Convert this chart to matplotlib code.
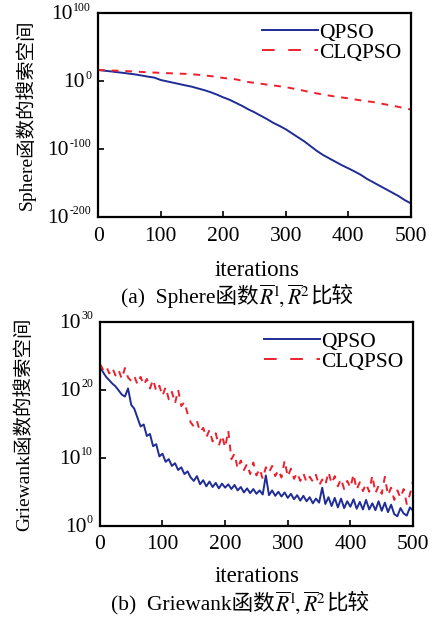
"""Sphere / Griewank 函数搜索空间比较图 (QPSO vs CLQPSO)。"""

import matplotlib

matplotlib.use("Agg")
import matplotlib.pyplot as plt
import numpy as np
from matplotlib.lines import Line2D
from matplotlib.ticker import FixedLocator, NullFormatter, NullLocator

plt.rcParams["font.family"] = ["Liberation Serif", "Noto Sans CJK SC"]
plt.rcParams["mathtext.fontset"] = "stix"

# ---- data (log10 values) ----
sphere_qpso_iter = list(range(0, 501, 10))
sphere_qpso_log = [
    16.2, 15.2, 14.2, 13.0, 12.0, 10.8, 9.6, 8.0, 6.4, 5.0,
    1.5, -0.5, -2.5, -4.5, -6.5, -8.4, -11.0, -13.5, -16.5, -20.0,
    -24.0, -27.5, -32.0, -36.5, -41.6, -46.0, -51.0, -56.0, -61.5, -66.0,
    -71.0, -77.0, -83.0, -89.0, -96.0, -103.0, -109.0, -114.0, -119.0, -124.0,
    -128.4, -133.0, -138.0, -144.0, -149.0, -154.0, -159.0, -164.0, -169.0, -175.0,
    -180.0,
]
sphere_cl_iter = list(range(0, 501, 20))
sphere_cl_log = [
    16.2, 15.5, 14.8, 13.8, 12.8, 12.0, 11.2, 10.5, 9.2, 7.2,
    4.5, 2.5, -1.5, -4.0, -6.5, -9.0, -12.5, -16.5, -20.0, -23.0,
    -25.5, -28.5, -31.0, -34.5, -38.0, -42.0,
]

grie_iter = list(range(0, 501, 5))
grie_qpso_log = [
    23.4, 22.6, 21.9, 21.4, 20.9, 20.5, 19.9, 19.3, 19.0, 20.2,
    17.8, 17.2, 15.9, 14.6, 14.9, 13.2, 13.5, 11.7, 12.0, 10.2,
    10.6, 9.4, 9.8, 8.8, 9.2, 8.2, 8.6, 7.6, 8.0, 7.1,
    6.6, 7.3, 6.1, 6.7, 5.8, 6.5, 5.7, 6.3, 5.5, 6.2,
    5.6, 6.1, 5.4, 6.0, 5.2, 5.7, 4.9, 5.5, 4.8, 5.4,
    4.7, 5.2, 4.6, 7.4, 4.5, 5.2, 4.4, 5.0, 4.3, 4.9,
    4.1, 4.7, 3.9, 4.5, 3.7, 4.4, 3.6, 4.2, 3.3, 4.0,
    3.4, 5.6, 3.2, 4.2, 2.9, 4.1, 2.7, 4.0, 2.6, 3.6,
    2.8, 3.9, 2.5, 3.5, 2.4, 3.8, 2.4, 3.3, 2.3, 3.6,
    2.2, 3.4, 2.0, 3.1, 1.7, 1.4, 2.6, 1.8, 1.5, 2.7,
    2.2,
]
grie_cl_log = [
    23.8, 23.0, 23.5, 22.4, 23.2, 22.1, 22.9, 21.6, 23.2, 21.8,
    21.3, 22.0, 20.8, 21.9, 20.7, 21.6, 20.2, 21.5, 19.8, 20.6,
    19.1, 20.4, 18.6, 19.7, 18.0, 20.0, 17.6, 18.2, 16.5, 15.2,
    14.6, 15.4, 13.8, 14.4, 13.0, 14.1, 12.4, 13.6, 11.8, 13.3,
    11.5, 14.0, 9.8, 10.6, 8.4, 9.6, 8.2, 9.1, 7.6, 9.3,
    7.4, 8.4, 6.9, 8.6, 7.8, 8.8, 7.3, 8.2, 7.1, 9.6,
    7.2, 8.4, 6.9, 7.8, 6.6, 7.7, 6.4, 7.2, 6.5, 7.5,
    5.9, 6.8, 6.0, 7.9, 6.2, 7.3, 5.8, 6.9, 5.4, 6.6,
    5.6, 7.6, 5.3, 6.4, 5.1, 6.2, 5.0, 7.4, 4.8, 5.9,
    4.7, 7.2, 4.5, 5.6, 3.8, 5.2, 4.1, 5.4, 3.2, 4.6,
    6.6,
]

x_ticks = [0, 100, 200, 300, 400, 500]
sphere_yticks = [-200, -100, 0, 100]
grie_yticks = [0, 10, 20, 30]
legend_labels = ["QPSO", "CLQPSO"]

BLUE = "#1f2c96"
RED = "#ee1f2d"
FS = 15.5
LW = 1.4


def power_labels(fig, ax, yticks):
    """手工画 10^n 刻度标签：上标比 mathtext 默认的更小。"""
    renderer = fig.canvas.get_renderer()
    for t in yticks:
        pos = dict(xy=(0, 10.0 ** t), xycoords=("axes fraction", "data"),
                   textcoords="offset points")
        sup = ax.annotate(str(t), xytext=(-5, 1.8), ha="right", va="baseline",
                          fontsize=8.5, **pos)
        w = sup.get_window_extent(renderer).width * 72 / fig.dpi
        ax.annotate("10", xytext=(-5.5 - w, -1.2), ha="right", va="center",
                    fontsize=FS, **pos)


def style_axes(fig, ax, yticks):
    ax.set_yscale("log")
    ax.set_xlim(0, 500)
    ax.set_ylim(10.0 ** yticks[0], 10.0 ** yticks[-1])
    ax.xaxis.set_major_locator(FixedLocator(x_ticks))
    ax.yaxis.set_major_locator(FixedLocator([10.0 ** t for t in yticks]))
    ax.yaxis.set_minor_locator(NullLocator())
    ax.yaxis.set_major_formatter(NullFormatter())
    ax.tick_params(direction="in", length=4, width=1.2, labelsize=FS, pad=7,
                   top=False, right=False)
    for sp in ax.spines.values():
        sp.set_linewidth(1.6)
    power_labels(fig, ax, yticks)
    # 图例里的虚线比曲线上的更长
    handles = [Line2D([], [], color=BLUE, lw=LW),
               Line2D([], [], color=RED, lw=LW, dashes=(6.5, 7))]
    ax.legend(handles, legend_labels, loc="upper right", frameon=False,
              fontsize=FS, handlelength=2.6, handletextpad=0.05,
              labelspacing=0.0, borderpad=0.2, borderaxespad=0.25)


def caption(fig, xc, y, pieces):
    """在 (xc, y) 居中放置由多段文字拼成的一行标题。"""
    texts = [fig.text(0, y, s, fontsize=FS, va="center", **kw) for s, kw in pieces]
    renderer = fig.canvas.get_renderer()
    widths = [t.get_window_extent(renderer).width / fig.bbox.width for t in texts]
    x = xc - sum(widths) / 2
    for t, w in zip(texts, widths):
        t.set_x(x)
        x += w


fig = plt.figure(figsize=(4.38, 6.2), dpi=100)
ax1 = fig.add_axes([0.224, 0.650, 0.714, 0.329])
ax2 = fig.add_axes([0.228, 0.152, 0.715, 0.329])

ax1.plot(sphere_qpso_iter, 10.0 ** np.array(sphere_qpso_log), color=BLUE, lw=LW)
ax1.plot(sphere_cl_iter, 10.0 ** np.array(sphere_cl_log), color=RED, lw=LW,
         dashes=(3.5, 3.5))
style_axes(fig, ax1, sphere_yticks)
ax1.set_ylabel("Sphere函数的搜索空间", fontsize=14)
ax1.yaxis.set_label_coords(-0.20, 0.5)

ax2.plot(grie_iter, 10.0 ** np.array(grie_qpso_log), color=BLUE, lw=LW)
ax2.plot(grie_iter, 10.0 ** np.array(grie_cl_log), color=RED, lw=LW,
         dashes=(3.5, 3.5))
style_axes(fig, ax2, grie_yticks)
ax2.set_ylabel("Griewank函数的搜索空间", fontsize=14)
ax2.yaxis.set_label_coords(-0.213, 0.5)

fig.text(257 / 438, 1 - 270 / 620, "iterations", fontsize=16.5, ha="center", va="center")
fig.text(257 / 438, 1 - 577 / 620, "iterations", fontsize=16.5, ha="center", va="center")

bar_r = r"$\overline{R}^{1}\!,\overline{R}^{2}$"
caption(fig, 237 / 438, 1 - 296 / 620,
        [("(a)  Sphere函数", {}), (bar_r, {}), ("比较", {})])
caption(fig, 240 / 438, 1 - 603 / 620,
        [("(b)  Griewank函数", {}), (bar_r, {}), ("比较", {})])

fig.savefig("out.png", dpi=100)
plt.close(fig)
